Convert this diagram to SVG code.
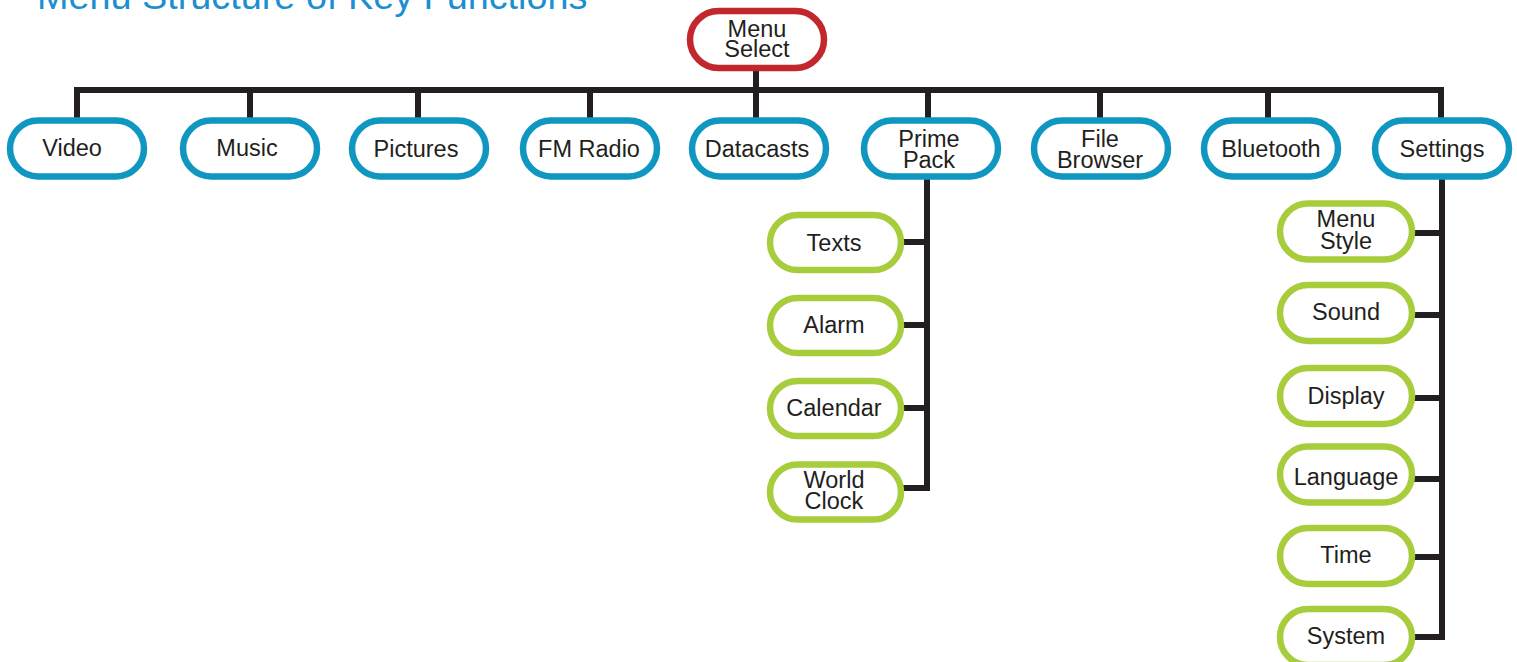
<svg xmlns="http://www.w3.org/2000/svg" width="1517" height="662" viewBox="0 0 1517 662">
<style>
.t{font-family:"Liberation Sans",Arial,sans-serif;font-size:23.5px;fill:#231f20;text-anchor:middle}
.title{font-family:"Liberation Sans",Arial,sans-serif;font-size:37.8px;fill:#1b8fcf}
.blue{fill:#fff;stroke:#0f97c1;stroke-width:6.5}
.green{fill:#fff;stroke:#a8cd3c;stroke-width:6.5}
.red{fill:#fff;stroke:#c1272d;stroke-width:6.5}
.c{fill:none;stroke:#231f20;stroke-width:6;stroke-linejoin:miter;stroke-linecap:butt}
</style>
<rect width="1517" height="662" fill="#fff"/>
<text class="title" x="37" y="9">Menu Structure of Key Functions</text>
<g id="connectors">
<path class="c" d="M756 70 V90"/>
<path class="c" d="M77 119 V90 H1441 V119"/>
<path class="c" d="M250 90 V119 M418 90 V119 M590 90 V119 M756 90 V119 M928 90 V119 M1100 90 V119 M1268 90 V119"/>
<path class="c" d="M927 178 V488 H903 M903 242 H927 M903 325 H927 M903 408 H927"/>
<path class="c" d="M1442 178 V637 H1414 M1414 233 H1442 M1414 315 H1442 M1414 398 H1442 M1414 479 H1442 M1414 557 H1442"/>
</g>
<g id="menu-select"><rect class="red" x="690" y="11" width="134" height="57" rx="28.5"/><text class="t" x="757" y="37">Menu</text><text class="t" x="757" y="57">Select</text></g>
<g id="video"><rect class="blue" x="10" y="120.5" width="134" height="56" rx="28"/><text class="t" x="72" y="156">Video</text></g>
<g id="music"><rect class="blue" x="183" y="120.5" width="134" height="56" rx="28"/><text class="t" x="247" y="156">Music</text></g>
<g id="pictures"><rect class="blue" x="352" y="120.5" width="134" height="56" rx="28"/><text class="t" x="416" y="157">Pictures</text></g>
<g id="fm-radio"><rect class="blue" x="523" y="120.5" width="134" height="56" rx="28"/><text class="t" x="589" y="157">FM Radio</text></g>
<g id="datacasts"><rect class="blue" x="692" y="120.5" width="134" height="56" rx="28"/><text class="t" x="757" y="157">Datacasts</text></g>
<g id="prime-pack"><rect class="blue" x="864" y="120.5" width="134" height="56" rx="28"/><text class="t" x="929" y="147">Prime</text><text class="t" x="929" y="168">Pack</text></g>
<g id="file-browser"><rect class="blue" x="1034" y="120.5" width="134" height="56" rx="28"/><text class="t" x="1100" y="147">File</text><text class="t" x="1100" y="168">Browser</text></g>
<g id="bluetooth"><rect class="blue" x="1204" y="120.5" width="134" height="56" rx="28"/><text class="t" x="1271" y="157">Bluetooth</text></g>
<g id="settings"><rect class="blue" x="1375" y="120.5" width="134" height="56" rx="28"/><text class="t" x="1442" y="157">Settings</text></g>
<g id="texts"><rect class="green" x="770" y="215" width="131" height="55" rx="27.5"/><text class="t" x="834" y="251">Texts</text></g>
<g id="alarm"><rect class="green" x="770" y="298" width="131" height="55" rx="27.5"/><text class="t" x="834" y="333">Alarm</text></g>
<g id="calendar"><rect class="green" x="770" y="381" width="131" height="55" rx="27.5"/><text class="t" x="834" y="416">Calendar</text></g>
<g id="world-clock"><rect class="green" x="770" y="464.5" width="131" height="55" rx="27.5"/><text class="t" x="834" y="488">World</text><text class="t" x="834" y="509">Clock</text></g>
<g id="menu-style"><rect class="green" x="1280" y="203.5" width="132" height="56" rx="28"/><text class="t" x="1346" y="227">Menu</text><text class="t" x="1346" y="249">Style</text></g>
<g id="sound"><rect class="green" x="1280" y="285" width="132" height="56" rx="28"/><text class="t" x="1346" y="320">Sound</text></g>
<g id="display"><rect class="green" x="1280" y="368" width="132" height="56" rx="28"/><text class="t" x="1346" y="404">Display</text></g>
<g id="language"><rect class="green" x="1280" y="446.5" width="132" height="56" rx="28"/><text class="t" x="1346" y="485">Language</text></g>
<g id="time"><rect class="green" x="1280" y="528" width="132" height="56" rx="28"/><text class="t" x="1346" y="563">Time</text></g>
<g id="system"><rect class="green" x="1280" y="609" width="132" height="56" rx="28"/><text class="t" x="1346" y="644">System</text></g>
</svg>
